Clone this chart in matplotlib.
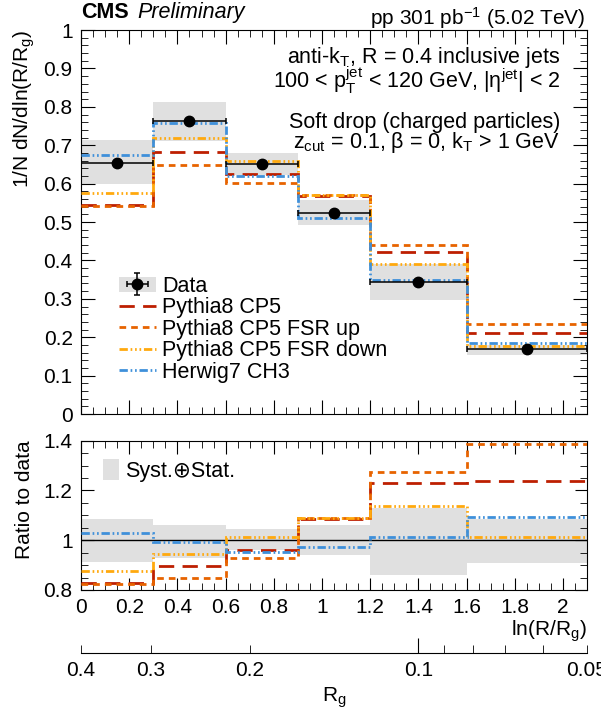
import numpy as np
import matplotlib
matplotlib.use("Agg")
import matplotlib.pyplot as plt
from matplotlib.ticker import MultipleLocator, FuncFormatter, FixedLocator
from matplotlib.patches import Patch

plt.rcParams['font.family'] = ['Liberation Sans', 'DejaVu Sans']
plt.rcParams['mathtext.fontset'] = 'custom'
plt.rcParams['mathtext.rm'] = 'Liberation Sans'
plt.rcParams['mathtext.it'] = 'Liberation Sans:italic'
plt.rcParams['mathtext.bf'] = 'Liberation Sans:bold'

# bins in ln(R/Rg)
edges = [0.0, 0.3, 0.6, 0.9, 1.2, 1.6, 2.1]

# main panel, values
data = [0.655, 0.763, 0.650, 0.523, 0.345, 0.169]
data_stat = [0.006, 0.006, 0.006, 0.005, 0.005, 0.004]
band_lo = [0.600, 0.710, 0.623, 0.492, 0.297, 0.154]
band_hi = [0.714, 0.812, 0.681, 0.557, 0.392, 0.180]
pythia = [0.544, 0.682, 0.625, 0.568, 0.423, 0.210]
fsr_up = [0.541, 0.649, 0.602, 0.570, 0.440, 0.234]
fsr_down = [0.576, 0.720, 0.660, 0.571, 0.392, 0.178]
herwig = [0.674, 0.757, 0.620, 0.510, 0.349, 0.186]

# ratio panel
r_band_lo = [0.914, 0.930, 0.960, 0.942, 0.860, 0.907]
r_band_hi = [1.085, 1.061, 1.047, 1.062, 1.130, 1.085]
r_pythia = [0.829, 0.896, 0.962, 1.085, 1.228, 1.238]
r_fsr_up = [0.825, 0.849, 0.927, 1.090, 1.274, 1.385]
r_fsr_down = [0.878, 0.943, 1.013, 1.090, 1.137, 1.014]
r_herwig = [1.028, 0.992, 0.953, 0.973, 1.014, 1.094]

rg_labelled = [0.4, 0.3, 0.2, 0.1, 0.05]
rg_small = [0.4, 0.3, 0.2, 0.09, 0.08, 0.07, 0.06, 0.05]

c_pythia = '#bd1f01'
c_up = '#e76300'
c_down = '#ffa90e'
c_herwig = '#3f90da'
c_band = '#e0e0e0'

styles = [
    (c_pythia, (0, (5.5, 3.0)), 'Pythia8 CP5'),
    (c_up, (0, (2.4, 1.8)), 'Pythia8 CP5 FSR up'),
    (c_down, (0, (3.0, 1.0, 0.6, 1.0, 0.6, 1.0, 0.6, 1.0)), 'Pythia8 CP5 FSR down'),
    (c_herwig, (0, (3.0, 1.0, 0.6, 1.0, 0.6, 1.0)), 'Herwig7 CH3'),
]

edges = np.array(edges)
centers = 0.5 * (edges[1:] + edges[:-1])
widths = edges[1:] - edges[:-1]

fig = plt.figure(figsize=(6.01, 7.11), dpi=100)
ax = fig.add_axes([0.1348, 0.4177, 0.842, 0.540])
rax = fig.add_axes([0.1348, 0.1702, 0.842, 0.210])
bax = fig.add_axes([0.1348, 0.0816, 0.842, 0.001])

fmt = FuncFormatter(lambda v, p: '%g' % round(v, 3))

# ---- main panel
ax.bar(centers, np.array(band_hi) - np.array(band_lo), bottom=band_lo, width=widths,
       color=c_band, linewidth=0, zorder=1)
handles = []
for vals, (col, ls, lab) in zip([pythia, fsr_up, fsr_down, herwig], styles):
    h = ax.stairs(vals, edges, baseline=None, color=col, linestyle=ls, linewidth=2.0,
                  label=lab, zorder=3)
    handles.append(h)
eb = ax.errorbar(centers, data, xerr=widths / 2, yerr=data_stat, fmt='o', color='black',
                 markersize=7.5, elinewidth=1.1, capsize=2.5, capthick=1.1, zorder=5)
data_handle = (Patch(facecolor=c_band, edgecolor='none'), eb)

ax.set_xlim(0, 2.1)
ax.set_ylim(0, 1)
ax.xaxis.set_major_locator(MultipleLocator(0.2))
ax.xaxis.set_minor_locator(MultipleLocator(0.05))
ax.yaxis.set_major_locator(MultipleLocator(0.1))
ax.yaxis.set_minor_locator(MultipleLocator(0.02))
ax.yaxis.set_major_formatter(fmt)
ax.tick_params(which='both', direction='in', top=True, right=True, labelsize=15)
ax.tick_params(which='major', length=10, pad=6)
ax.tick_params(which='minor', length=5)
ax.tick_params(axis='x', labelbottom=False)
ax.set_ylabel(r'1/N dN/dln(R/R$_{\mathrm{g}}$)', fontsize=15, loc='top')
ax.yaxis.set_label_coords(-0.087, 1.0)

leg = ax.legend([data_handle] + handles, ['Data'] + [s[2] for s in styles],
                loc='upper left', bbox_to_anchor=(0.075, 0.36), frameon=False,
                fontsize=15.5, handlelength=1.7, handletextpad=0.3, labelspacing=0.02,
                borderpad=0, borderaxespad=0)

tx = 0.947
fs_txt = 15.5
ax.text(tx, 0.914, r'anti-$\mathrm{k}_{\mathrm{T}}$, R = 0.4 inclusive jets', transform=ax.transAxes,
        ha='right', va='baseline', fontsize=fs_txt)
ax.text(tx, 0.849, r'100 < $\mathrm{p}_{\mathrm{T}}^{\mathrm{jet}}$ < 120 GeV, |η$^{\mathrm{jet}}$| < 2',
        transform=ax.transAxes, ha='right', va='baseline', fontsize=fs_txt)
ax.text(tx, 0.745, 'Soft drop (charged particles)', transform=ax.transAxes,
        ha='right', va='baseline', fontsize=fs_txt)
ax.text(tx, 0.693, r'$\mathrm{z}_{\mathrm{cut}}$ = 0.1, β = 0, $\mathrm{k}_{\mathrm{T}}$ > 1 GeV',
        transform=ax.transAxes, ha='right', va='baseline', fontsize=fs_txt)

fig.text(0.1348, 0.974, 'CMS', fontsize=15.5, fontweight='bold', ha='left', va='baseline')
fig.text(0.228, 0.974, 'Preliminary', fontsize=15.5, style='italic', ha='left', va='baseline')
fig.text(0.974, 0.965, r'pp 301 pb$^{-1}$ (5.02 TeV)', fontsize=15, ha='right', va='baseline')

# ---- ratio panel
rax.bar(centers, np.array(r_band_hi) - np.array(r_band_lo), bottom=r_band_lo, width=widths,
        color=c_band, linewidth=0, zorder=1, label='Syst.⊕Stat.')
rax.axhline(1.0, color='black', linewidth=1.0, zorder=2)
for vals, (col, ls, lab) in zip([r_pythia, r_fsr_up, r_fsr_down, r_herwig], styles):
    rax.stairs(vals, edges, baseline=None, color=col, linestyle=ls, linewidth=2.0, zorder=3)
rax.set_xlim(0, 2.1)
rax.set_ylim(0.8, 1.4)
rax.xaxis.set_major_locator(MultipleLocator(0.2))
rax.xaxis.set_minor_locator(MultipleLocator(0.05))
rax.yaxis.set_major_locator(MultipleLocator(0.2))
rax.yaxis.set_minor_locator(MultipleLocator(0.05))
rax.xaxis.set_major_formatter(fmt)
rax.yaxis.set_major_formatter(fmt)
rax.tick_params(which='both', direction='in', top=True, right=True, labelsize=15)
rax.tick_params(which='major', length=9, pad=6)
rax.tick_params(which='minor', length=5)
rax.set_ylabel('Ratio to data', fontsize=15, loc='top')
rax.yaxis.set_label_coords(-0.093, 1.0)
rax.set_xlabel(r'ln(R/R$_{\mathrm{g}}$)', fontsize=15, loc='right', labelpad=1)
rax.legend(loc='upper left', bbox_to_anchor=(0.043, 0.88), frameon=False, fontsize=15.5,
           handlelength=0.75, handleheight=1.15, handletextpad=0.3, borderpad=0, borderaxespad=0)

# ---- Rg axis
bax.set_xscale('log')
bax.set_xlim(0.4, 0.05)
for s in ['top', 'left', 'right']:
    bax.spines[s].set_visible(False)
bax.patch.set_visible(False)
bax.set_yticks([])
bax.xaxis.set_major_locator(FixedLocator([0.1]))
bax.xaxis.set_major_formatter(FuncFormatter(lambda v, p: '%g' % v))
bax.xaxis.set_minor_locator(FixedLocator(rg_small))
bax.xaxis.set_minor_formatter(FuncFormatter(
    lambda v, p: ('%g' % v) if any(abs(v - t) < 1e-9 for t in rg_labelled) else ''))
bax.tick_params(which='both', direction='in', labelsize=15, pad=6)
bax.tick_params(which='major', length=11)
bax.tick_params(which='minor', length=5.5)
bax.set_xlabel(r'R$_{\mathrm{g}}$', fontsize=15, labelpad=4)

fig.savefig('out.png', dpi=100)
